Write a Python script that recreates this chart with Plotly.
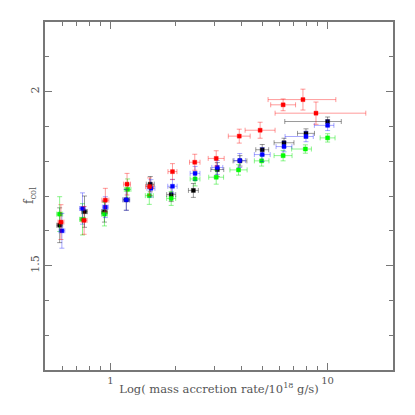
import numpy as np
import plotly.graph_objects as go

# mass accretion rate (1e18 g/s) and colour-correction factor, one list per series
red_x = [0.592, 0.757, 0.948, 1.193, 1.515, 1.931, 2.446, 3.07, 3.92, 4.89, 6.24, 7.70, 8.84]
red_y = [1.625, 1.630, 1.688, 1.734, 1.727, 1.770, 1.797, 1.808, 1.872, 1.889, 1.962, 1.977, 1.938]
red_yerr = [0.05, 0.04, 0.034, 0.031, 0.025, 0.023, 0.023, 0.022, 0.02, 0.023, 0.017, 0.03, 0.032]
red_xhi = [0.019, 0.024, 0.036, 0.045, 0.065, 0.094, 0.14, 0.27, 0.48, 0.84, 0.88, 3.21, 6.15]
red_xlo = [0.018, 0.023, 0.034, 0.043, 0.063, 0.090, 0.133, 0.25, 0.43, 0.72, 0.77, 2.38, 3.11]

blue_x = [0.598, 0.744, 0.948, 1.184, 1.537, 1.931, 2.454, 3.106, 3.94, 5.0, 6.30, 7.95, 10.0]
blue_y = [1.600, 1.664, 1.668, 1.689, 1.722, 1.728, 1.765, 1.782, 1.802, 1.819, 1.842, 1.871, 1.903]
blue_yerr = [0.05, 0.045, 0.03, 0.03, 0.025, 0.02, 0.02, 0.02, 0.02, 0.02, 0.015, 0.015, 0.015]
blue_xhi = [0.019, 0.024, 0.03, 0.042, 0.066, 0.098, 0.13, 0.186, 0.244, 0.44, 0.55, 0.64, 0.69]
blue_xlo = [0.018, 0.023, 0.029, 0.041, 0.063, 0.094, 0.125, 0.175, 0.23, 0.40, 0.51, 1.58, 1.31]

black_x = [0.584, 0.760, 0.939, 1.184, 1.526, 1.905, 2.41, 3.106, 3.95, 5.0, 6.30, 7.95, 10.0]
black_y = [1.616, 1.655, 1.655, 1.689, 1.734, 1.704, 1.716, 1.776, 1.801, 1.833, 1.853, 1.880, 1.914]
black_yerr = [0.05, 0.045, 0.03, 0.03, 0.022, 0.02, 0.02, 0.02, 0.015, 0.015, 0.013, 0.013, 0.013]
black_xhi = [0.019, 0.024, 0.03, 0.042, 0.066, 0.093, 0.13, 0.22, 0.30, 0.355, 0.70, 0.75, 1.56]
black_xlo = [0.018, 0.023, 0.029, 0.041, 0.063, 0.089, 0.123, 0.206, 0.28, 0.33, 0.63, 0.68, 3.65]

green_x = [0.584, 0.744, 0.939, 1.20, 1.51, 1.905, 2.454, 3.07, 3.89, 4.97, 6.24, 7.90, 10.0]
green_y = [1.648, 1.633, 1.648, 1.719, 1.701, 1.693, 1.749, 1.754, 1.775, 1.801, 1.816, 1.835, 1.867]
green_yerr = [0.05, 0.045, 0.034, 0.03, 0.025, 0.02, 0.02, 0.02, 0.015, 0.015, 0.015, 0.012, 0.012]
green_xhi = [0.019, 0.024, 0.03, 0.043, 0.065, 0.093, 0.13, 0.25, 0.37, 0.40, 0.62, 0.52, 0.82]
green_xlo = [0.018, 0.023, 0.029, 0.041, 0.062, 0.089, 0.125, 0.234, 0.34, 0.37, 0.57, 1.07, 0.76]

x_major = [1, 10]
x_minor = [0.6, 0.7, 0.8, 0.9, 2, 3, 4, 5, 6, 7, 8, 9]
y_major = [1.5, 2]
y_major_text = ["1.5", "2"]
y_minor = [1.3, 1.4, 1.6, 1.7, 1.8, 1.9, 2.1]

series = [
    ("black", black_x, black_y, black_yerr, black_xhi, black_xlo, "#000000", "rgba(0,0,0,0.4)"),
    ("green", green_x, green_y, green_yerr, green_xhi, green_xlo, "#00ff00", "rgba(0,230,0,0.45)"),
    ("blue", blue_x, blue_y, blue_yerr, blue_xhi, blue_xlo, "#0000ff", "rgba(0,0,255,0.35)"),
    ("red", red_x, red_y, red_yerr, red_xhi, red_xlo, "#ff0000", "rgba(255,0,0,0.4)"),
]

fig = go.Figure()
for name, xs, ys, ye, xhi, xlo, col, ecol in series:
    fig.add_trace(go.Scatter(
        x=xs, y=ys, mode="markers", name=name,
        marker=dict(symbol="square", size=4, color=col, line=dict(width=1, color=ecol)),
        error_y=dict(type="data", array=ye, color=ecol, thickness=1, width=2.5),
        error_x=dict(type="data", array=xhi, arrayminus=xlo, symmetric=False,
                     color=ecol, thickness=1, width=2.5),
    ))

axis_col = "#777777"
font_fam = "DejaVu Serif"
# page body adds an 8px offset, so margins are shifted to keep the frame in place
fig.update_layout(
    width=415, height=415,
    margin=dict(l=37, r=30, t=14, b=53),
    paper_bgcolor="white", plot_bgcolor="white",
    showlegend=False,
    font=dict(family=font_fam, size=10, color="#555555"),
)
fig.update_xaxes(
    type="log", range=[np.log10(0.5), np.log10(20)], automargin=False,
    tickvals=x_major, ticktext=["1", "10"],
    ticks="inside", ticklen=7, tickwidth=1, tickcolor=axis_col,
    minor=dict(tickvals=x_minor, ticks="inside", ticklen=4, tickcolor=axis_col, showgrid=False),
    showline=True, linecolor=axis_col, linewidth=1.5, mirror="ticks",
    showgrid=False, zeroline=False,
    tickfont=dict(size=10),
    title=dict(text="Log( mass accretion rate/10<sup>18</sup> g/s)", font=dict(size=11.5), standoff=0),
)
fig.update_yaxes(
    range=[1.2, 2.2], automargin=False,
    tickvals=y_major, ticktext=y_major_text, tickangle=-90,
    ticks="inside", ticklen=7, tickwidth=1, tickcolor=axis_col,
    minor=dict(tickvals=y_minor, ticks="inside", ticklen=4, tickcolor=axis_col, showgrid=False),
    showline=True, linecolor=axis_col, linewidth=1.5, mirror="ticks",
    showgrid=False, zeroline=False,
    tickfont=dict(size=11),
)
fig.add_annotation(
    text="f<sub>col</sub>", xref="paper", yref="paper", x=-0.043, y=0.5,
    xanchor="center", yanchor="middle", textangle=-90, showarrow=False,
    font=dict(size=12),
)

fig.write_html("out.html")
